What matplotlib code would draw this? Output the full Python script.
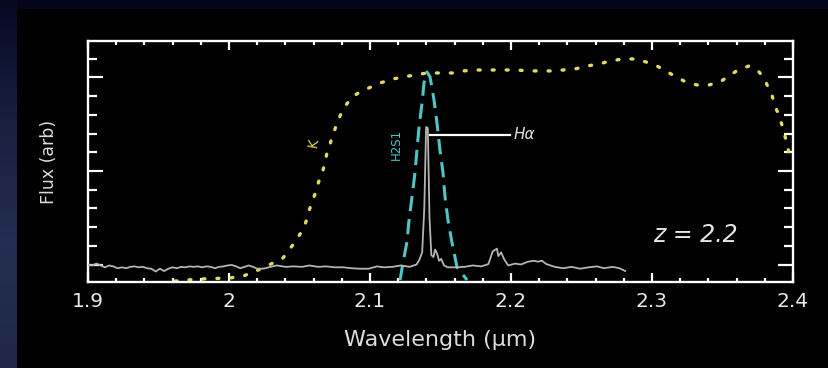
import matplotlib
matplotlib.use("Agg")
import matplotlib.pyplot as plt
import numpy as np
from matplotlib.colors import LinearSegmentedColormap
from matplotlib.patches import Rectangle
from matplotlib.ticker import MultipleLocator

# gray spectrum (wavelength in um, flux arbitrary)
spec_wl = [1.900, 1.903, 1.906, 1.909, 1.912, 1.915, 1.918, 1.921, 1.924, 1.927,
           1.930, 1.933, 1.936, 1.939, 1.942, 1.945, 1.948, 1.951, 1.954, 1.957,
           1.960, 1.963, 1.966, 1.969, 1.972, 1.975, 1.978, 1.981, 1.984, 1.987,
           1.990, 1.993, 1.996, 1.999, 2.002, 2.005, 2.008, 2.011, 2.014, 2.017,
           2.020, 2.023, 2.026, 2.028, 2.034, 2.040, 2.046, 2.052, 2.057, 2.063,
           2.069, 2.075, 2.081, 2.087, 2.093, 2.099, 2.105, 2.110, 2.116, 2.122,
           2.128, 2.133, 2.135, 2.137, 2.1385, 2.1398, 2.1410, 2.1422, 2.1435, 2.1450,
           2.1462, 2.1475, 2.1490, 2.1505, 2.1525, 2.155, 2.161, 2.167, 2.173, 2.179,
           2.184, 2.187, 2.190, 2.191, 2.193, 2.195, 2.198, 2.203, 2.207, 2.212,
           2.216, 2.219, 2.222, 2.225, 2.231, 2.237, 2.243, 2.249, 2.255, 2.261,
           2.266, 2.272, 2.277, 2.281]
spec_flux = [-0.005, -0.01, 0.01, -0.01, -0.03, -0.01, -0.02, -0.04, -0.03, -0.04,
             -0.025, -0.02, -0.03, -0.025, -0.04, -0.045, -0.075, -0.045, -0.07, -0.045,
             -0.03, -0.04, -0.025, -0.03, -0.02, -0.025, -0.02, -0.03, -0.02, -0.025,
             -0.04, -0.025, -0.02, -0.01, -0.005, -0.02, -0.04, -0.025, -0.01, -0.025,
             -0.045, -0.045, -0.04, -0.03, -0.01, -0.025, -0.02, -0.025, -0.01, -0.025,
             -0.02, -0.03, -0.03, -0.04, -0.045, -0.045, -0.02, -0.03, -0.025, -0.01,
             -0.025, 0.0, 0.05, 0.13, 0.6, 1.47, 1.46, 0.5, 0.1, 0.08,
             0.16, 0.12, 0.04, 0.06, -0.01, -0.03, -0.03, -0.025, -0.01, -0.02,
             0.005, 0.14, 0.17, 0.09, 0.13, 0.06, -0.01, 0.01, 0.0, 0.03,
             0.04, 0.03, 0.04, 0.005, -0.025, -0.04, -0.025, -0.045, -0.03, -0.02,
             -0.04, -0.025, -0.04, -0.07]

# K band filter (yellow dotted)
k_wl = [1.9617, 1.979, 2.0007, 2.010, 2.0177, 2.0312, 2.0383, 2.0426, 2.0468, 2.0504,
        2.0532, 2.0553, 2.0567, 2.0589, 2.0610, 2.0624, 2.0645, 2.0667, 2.0681, 2.0695,
        2.0716, 2.0730, 2.0752, 2.0773, 2.0801, 2.0830, 2.0872, 2.0929, 2.1007, 2.1071,
        2.1163, 2.1234, 2.1319, 2.1404, 2.1496, 2.1582, 2.1660, 2.1759, 2.1851, 2.1943,
        2.2043, 2.2121, 2.2206, 2.2291, 2.2369, 2.2454, 2.2539, 2.2624, 2.2702, 2.2794,
        2.2879, 2.2957, 2.3035, 2.3099, 2.3170, 2.3241, 2.3319, 2.3404, 2.3482, 2.3546,
        2.3610, 2.3688, 2.3759, 2.3794, 2.3823, 2.3851, 2.3865, 2.3887, 2.3908, 2.3929,
        2.3943, 2.3957, 2.3972, 2.400]
k_trans = [-0.177, -0.155, -0.144, -0.123, -0.080, 0.016, 0.070, 0.155, 0.241, 0.326,
           0.401, 0.487, 0.572, 0.668, 0.754, 0.829, 0.925, 1.011, 1.096, 1.193,
           1.278, 1.364, 1.449, 1.545, 1.631, 1.706, 1.791, 1.845, 1.898, 1.941,
           1.984, 2.005, 2.027, 2.048, 2.048, 2.048, 2.070, 2.080, 2.080, 2.080,
           2.080, 2.070, 2.070, 2.070, 2.080, 2.091, 2.123, 2.144, 2.176, 2.198,
           2.198, 2.166, 2.123, 2.070, 2.005, 1.952, 1.920, 1.920, 1.952, 2.016,
           2.080, 2.123, 2.059, 1.995, 1.898, 1.813, 1.727, 1.642, 1.556, 1.460,
           1.374, 1.289, 1.193, 1.12]

# H2S1 narrow filter (cyan dashed)
h2_wl = [2.1213, 2.1234, 2.1262, 2.1277, 2.1298, 2.1319, 2.1333, 2.1348, 2.1369, 2.1383,
         2.1404, 2.1426, 2.1454, 2.1475, 2.1496, 2.1518, 2.1532, 2.1553, 2.1582, 2.1617,
         2.1688]
h2_trans = [-0.166, 0.016, 0.241, 0.476, 0.722, 0.979, 1.225, 1.471, 1.727, 1.941,
            2.059, 2.005, 1.759, 1.513, 1.225, 0.979, 0.722, 0.476, 0.230, -0.027,
            -0.166]

x_ticks = [1.9, 2.0, 2.1, 2.2, 2.3, 2.4]
x_labels = ["1.9", "2", "2.1", "2.2", "2.3", "2.4"]

plt.rcParams['font.family'] = ['DejaVu Sans']

fig = plt.figure(figsize=(8.29, 3.68), dpi=100)
fig.patch.set_facecolor('#04051a')

# slide background: navy, blue strip on the left, black panel
bg = fig.add_axes([0, 0, 1, 1], zorder=-10)
cmap = LinearSegmentedColormap.from_list('strip', ['#070922', '#18203f', '#242e50', '#1f2847'])
bg.imshow(np.linspace(0, 1, 100).reshape(-1, 1), aspect='auto', cmap=cmap,
          extent=[0, 17, 368, 0])
bg.add_patch(Rectangle((17, 9), 812, 359, facecolor='black', edgecolor='none'))
bg.set_xlim(0, 829)
bg.set_ylim(368, 0)
bg.axis('off')

ax = fig.add_axes([88 / 829, 1 - 282 / 368, 705 / 829, 241 / 368])
ax.set_facecolor('black')

ax.plot(k_wl, k_trans, color='#e2da5c', lw=2.4, linestyle=(0, (0.6, 3.6)),
        dash_capstyle='round', zorder=2)
ax.plot(h2_wl, h2_trans, color='#4cc6c6', lw=2.2, linestyle=(0, (5, 2.6)), zorder=3)
ax.plot(spec_wl, spec_flux, color='#b4b4b4', lw=1.3, zorder=4)

# H-alpha marker
ax.plot([2.1426, 2.1993], [1.385, 1.385], color='white', lw=1.6, zorder=5)
ax.text(2.2015, 1.385, "H\u03b1", color='#e0e0e0', fontsize=11, style='italic',
        ha='left', va='center')
ax.text(2.119, 1.28, "H2S1", color='#4cc6c6', fontsize=8.5, rotation=90,
        ha='center', va='center')
ax.text(2.0596, 1.30, "K", color='#e2da5c', fontsize=10, rotation=80,
        ha='center', va='center')
ax.text(2.331, 0.315, "z = 2.2", color='#e6e6e6', fontsize=17, style='italic',
        ha='center', va='center')

ax.set_xlim(1.9, 2.4)
ax.set_ylim(-0.187, 2.39)
ax.set_xticks(x_ticks)
ax.set_xticklabels(x_labels)
ax.xaxis.set_minor_locator(MultipleLocator(0.02))
ax.set_yticks([0, 1, 2])
ax.set_yticklabels([])
ax.yaxis.set_minor_locator(MultipleLocator(0.2))

ax.tick_params(axis='x', which='major', direction='in', length=6.5, width=1.6,
               color='white', top=True, labelsize=14.5, labelcolor='#e8e8e8', pad=7)
ax.tick_params(axis='x', which='minor', direction='in', length=3, width=1.6,
               color='white', top=True)
ax.tick_params(axis='y', which='major', direction='in', length=11, width=1.6,
               color='white', right=True)
ax.tick_params(axis='y', which='minor', direction='in', length=6.5, width=1.6,
               color='white', right=True)
for sp in ax.spines.values():
    sp.set_color('white')
    sp.set_linewidth(1.7)

ax.set_xlabel("Wavelength (\u00b5m)", color='#dcdcdc', fontsize=16, labelpad=14)
ax.set_ylabel("Flux (arb)", color='#dcdcdc', fontsize=12.5, labelpad=18)

fig.savefig("out.png", dpi=100, facecolor=fig.get_facecolor())
